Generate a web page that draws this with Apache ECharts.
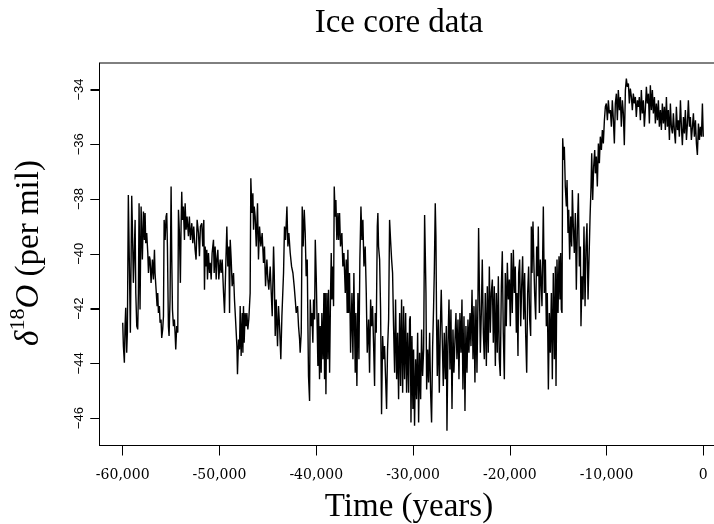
<!DOCTYPE html>
<html>
<head>
<meta charset="utf-8">
<script src="https://cdn.jsdelivr.net/npm/echarts@6/dist/echarts.min.js"></script>
<style>
html,body{margin:0;padding:0;overflow:hidden;background:#fff;}
#chart{width:740px;height:524px;}
</style>
</head>
<body>
<div id="chart"></div>
<script>
// Tick labels
const xTicks = [-60000, -50000, -40000, -30000, -20000, -10000, 0];
const yTicks = [-46, -44, -42, -40, -38, -36, -34];

// [time (years), d18O (per mil)]
const segA = [[-60000,-42.52],[-59930,-43.37],[-59830,-43.98],[-59760,-42.64],[-59690,-41.97],[-59590,-43.61],[-59520,-42.88],[-59420,-37.85],[-59310,-40.46],[-59210,-42.88],[-59070,-37.88],[-59000,-39.00],[-58900,-41.06],[-58790,-39.73],[-58720,-38.76],[-58650,-41.43],[-58550,-42.64],[-58450,-42.76],[-58380,-41.43],[-58310,-38.15],[-58210,-42.03],[-58100,-38.27],[-57970,-40.21],[-57860,-38.45],[-57760,-39.49],[-57690,-38.51],[-57620,-39.61],[-57520,-39.24],[-57410,-39.97],[-57340,-40.70],[-57240,-40.09],[-57170,-40.21],[-57070,-41.06],[-56930,-40.21],[-56830,-40.94],[-56720,-39.85],[-56660,-40.70],[-56550,-41.31],[-56450,-41.91],[-56380,-41.43],[-56310,-42.16],[-56210,-41.91],[-56140,-42.52],[-56040,-42.40],[-55970,-43.07],[-55870,-42.76],[-55790,-42.28],[-55720,-38.76],[-55620,-39.49],[-55520,-38.64],[-55450,-38.51],[-55380,-39.73],[-55280,-42.64],[-55210,-43.00],[-55110,-41.67],[-55000,-37.54],[-54930,-40.21],[-54860,-42.03],[-54760,-42.64],[-54660,-42.40],[-54590,-42.88],[-54520,-43.49],[-54420,-42.64],[-54310,-42.88],[-54240,-38.39],[-54140,-39.24],[-54040,-41.06],[-53970,-39.00],[-53900,-37.73],[-53830,-38.76],[-53730,-38.27],[-53620,-39.49],[-53550,-38.15],[-53450,-39.12],[-53350,-38.64],[-53210,-39.36],[-53110,-38.64],[-53000,-39.49],[-52860,-38.88],[-52760,-39.61],[-52660,-39.00],[-52520,-39.85],[-52420,-40.21],[-52310,-38.76],[-52170,-39.24],[-52070,-40.09],[-51970,-39.00],[-51830,-38.88],[-51730,-39.73],[-51620,-38.76],[-51550,-41.31]];

const segB = [[-51480,-39.73],[-51380,-40.46],[-51310,-39.85],[-51240,-40.94],[-51140,-39.97],[-51030,-40.70],[-50960,-40.33],[-50860,-40.94],[-50760,-39.97],[-50620,-39.49],[-50550,-40.70],[-50450,-39.73],[-50340,-40.94],[-50270,-40.21],[-50170,-39.85],[-50070,-40.94],[-49930,-40.21],[-49830,-40.70],[-49720,-40.21],[-49580,-41.43],[-49480,-42.16],[-49380,-40.82],[-49240,-39.00],[-49140,-40.46],[-49030,-39.73],[-48960,-42.16],[-48890,-39.49],[-48790,-40.21],[-48690,-41.18],[-48550,-40.70],[-48450,-41.67],[-48340,-42.40],[-48200,-43.37],[-48140,-44.40],[-48030,-43.13],[-47930,-43.49],[-47860,-41.91],[-47760,-43.73],[-47650,-42.16],[-47580,-43.61],[-47520,-41.91],[-47450,-43.25],[-47350,-42.16],[-47240,-42.64],[-47170,-42.16],[-47070,-42.76],[-46970,-42.40],[-46830,-41.43],[-46760,-37.24],[-46650,-38.51],[-46550,-37.79],[-46480,-39.12],[-46410,-38.27],[-46310,-38.64],[-46200,-39.73],[-46070,-38.15],[-45970,-40.21],[-45860,-39.00],[-45720,-39.73],[-45590,-39.24],[-45450,-40.33],[-45350,-39.73],[-45240,-41.18],[-45100,-40.21],[-45000,-40.94],[-44900,-41.31],[-44760,-40.46],[-44650,-41.43],[-44550,-42.28],[-44410,-39.73],[-44340,-40.70],[-44240,-43.00],[-44140,-41.67],[-44000,-43.37],[-43900,-41.91],[-43790,-42.64],[-43660,-43.85],[-43550,-42.28],[-43380,-40.70],[-43280,-39.00],[-43170,-39.49],[-43030,-38.27],[-42930,-39.73],[-42830,-39.24],[-42690,-39.97],[-42550,-40.46],[-42410,-40.70],[-42280,-41.18],[-42170,-41.67],[-42070,-42.16],[-41930,-41.91],[-41830,-42.64],[-41720,-43.13],[-41660,-43.61],[-41550,-42.88],[-41450,-38.27],[-41350,-39.73],[-41240,-38.39]];

const segC = [[-41140,-39.24],[-41040,-40.82],[-40930,-40.21],[-40860,-42.64],[-40800,-44.46],[-40690,-45.37],[-40620,-41.67],[-40520,-42.64],[-40450,-42.16],[-40350,-43.25],[-40280,-41.67],[-40170,-42.40],[-40100,-39.49],[-40000,-40.82],[-39930,-42.16],[-39830,-44.10],[-39760,-42.16],[-39660,-44.58],[-39590,-42.64],[-39490,-44.34],[-39420,-42.16],[-39310,-43.85],[-39210,-41.43],[-39140,-44.58],[-39070,-41.43],[-39000,-45.13],[-38900,-41.43],[-38800,-43.85],[-38730,-41.31],[-38620,-44.34],[-38520,-41.43],[-38450,-39.97],[-38380,-41.67],[-38310,-40.46],[-38210,-41.91],[-38140,-37.54],[-38040,-38.64],[-37970,-38.03],[-37870,-39.49],[-37760,-38.51],[-37690,-39.49],[-37590,-38.51],[-37490,-39.73],[-37350,-39.24],[-37250,-40.46],[-37140,-39.97],[-37000,-41.43],[-36900,-40.21],[-36800,-42.16],[-36730,-39.85],[-36660,-42.16],[-36560,-40.70],[-36450,-43.61],[-36310,-41.43],[-36210,-43.85],[-36110,-40.70],[-35970,-44.34],[-35900,-42.16],[-35800,-44.83],[-35690,-41.43],[-35590,-43.85],[-35490,-40.21],[-35380,-38.27],[-35280,-39.49],[-35180,-38.76],[-35070,-40.46],[-34940,-39.73],[-34830,-41.43],[-34730,-43.61],[-34590,-42.40],[-34490,-44.34],[-34380,-41.67],[-34280,-42.64],[-34180,-41.91],[-34070,-43.37],[-33970,-44.83],[-33900,-42.16],[-33800,-42.88],[-33690,-39.00],[-33630,-38.51],[-33560,-39.73],[-33450,-40.21],[-33350,-42.03],[-33250,-45.86],[-33140,-43.00],[-33040,-43.85],[-32940,-43.37],[-32830,-44.58],[-32730,-45.67],[-32630,-43.49],[-32520,-42.40],[-32420,-38.76],[-32320,-39.49],[-32210,-40.21],[-32110,-40.70],[-32010,-42.64],[-31900,-44.34],[-31800,-41.67],[-31690,-44.58],[-31590,-42.88],[-31490,-45.31],[-31380,-42.16],[-31280,-44.83],[-31180,-41.67],[-31070,-45.07],[-30970,-41.91],[-30870,-44.58],[-30760,-42.16],[-30660,-45.07],[-30560,-42.88],[-30450,-45.07],[-30350,-42.40]];

const segD = [[-30280,-42.28],[-30210,-46.16],[-30110,-43.00],[-30010,-45.67],[-29940,-43.49],[-29840,-46.28],[-29730,-43.85],[-29630,-45.31],[-29520,-42.88],[-29420,-46.16],[-29320,-43.61],[-29210,-45.31],[-29110,-42.76],[-29010,-44.46],[-28900,-43.49],[-28800,-38.58],[-28730,-39.97],[-28660,-41.43],[-28590,-44.95],[-28490,-43.49],[-28390,-44.70],[-28280,-42.88],[-28180,-45.07],[-28080,-46.16],[-27970,-43.37],[-27870,-41.91],[-27800,-40.70],[-27700,-38.15],[-27630,-39.36],[-27560,-42.64],[-27490,-44.46],[-27390,-42.40],[-27280,-45.07],[-27180,-42.76],[-27080,-41.31],[-26970,-43.25],[-26870,-44.83],[-26770,-42.88],[-26660,-44.58],[-26560,-42.64],[-26490,-46.46],[-26390,-43.37],[-26280,-41.67],[-26180,-44.22],[-26080,-42.03],[-25970,-45.67],[-25870,-42.76],[-25770,-44.34],[-25660,-43.13],[-25560,-42.16],[-25460,-43.85],[-25350,-42.40],[-25250,-44.58],[-25150,-42.16],[-25040,-43.61],[-24940,-41.67],[-24840,-44.95],[-24730,-42.28],[-24630,-45.74],[-24530,-42.64],[-24420,-44.34],[-24320,-42.40],[-24220,-43.61],[-24110,-42.16],[-24010,-43.37],[-23900,-41.31],[-23800,-43.85],[-23700,-41.91],[-23600,-44.70],[-23490,-41.67],[-23390,-44.34],[-23290,-41.79],[-23220,-39.06],[-23150,-40.94],[-23040,-43.61],[-22940,-42.16],[-22840,-40.21],[-22730,-42.88],[-22630,-43.85],[-22530,-41.43],[-22420,-44.10],[-22320,-41.18],[-22220,-43.61],[-22110,-40.46],[-22010,-42.88],[-21910,-41.43],[-21800,-40.94],[-21700,-43.25],[-21600,-41.18],[-21490,-44.10],[-21390,-41.43],[-21290,-43.61],[-21180,-40.82],[-21080,-43.85],[-20980,-44.46],[-20870,-41.18],[-20770,-39.91],[-20670,-42.88],[-20560,-44.58],[-20460,-40.70],[-20360,-42.64],[-20250,-40.33],[-20150,-41.67],[-20040,-40.94],[-19940,-42.64],[-19840,-39.97],[-19740,-42.16],[-19630,-39.85],[-19530,-41.43]];

const segE = [[-19430,-40.46],[-19320,-42.88],[-19250,-41.43],[-19150,-43.73],[-19080,-40.70],[-18980,-40.21],[-18870,-42.64],[-18770,-41.18],[-18670,-40.09],[-18560,-42.40],[-18460,-40.70],[-18360,-42.88],[-18250,-44.34],[-18150,-41.43],[-18050,-40.46],[-17940,-42.40],[-17840,-43.00],[-17770,-39.00],[-17700,-40.70],[-17600,-38.82],[-17500,-40.46],[-17430,-41.43],[-17320,-42.40],[-17220,-39.73],[-17120,-40.82],[-17050,-39.00],[-16940,-42.16],[-16840,-40.21],[-16740,-41.18],[-16670,-41.91],[-16530,-38.27],[-16430,-41.43],[-16320,-40.21],[-16220,-42.64],[-16120,-41.43],[-16010,-44.95],[-15910,-42.16],[-15810,-43.61],[-15700,-41.43],[-15600,-44.58],[-15500,-40.70],[-15390,-43.85],[-15290,-40.46],[-15220,-44.83],[-15120,-40.21],[-15010,-42.16],[-14910,-40.09],[-14810,-41.67],[-14740,-39.97],[-14670,-42.03],[-14600,-42.16],[-14530,-35.78],[-14430,-36.57],[-14360,-36.09],[-14260,-37.54],[-14150,-38.27],[-14080,-37.30],[-13980,-39.24],[-13910,-38.39],[-13810,-40.21],[-13700,-38.64],[-13600,-39.73],[-13530,-37.67],[-13430,-39.00],[-13330,-39.97],[-13220,-38.51],[-13120,-41.31],[-13010,-39.00],[-12910,-37.79],[-12810,-40.46],[-12700,-39.73],[-12640,-42.64],[-12530,-40.82],[-12430,-41.67],[-12330,-39.00],[-12220,-41.91],[-12120,-39.73],[-12020,-38.88],[-11910,-41.67],[-11810,-40.21],[-11700,-38.64],[-11600,-37.54],[-11530,-36.33],[-11430,-38.03],[-11330,-36.82],[-11220,-36.21],[-11150,-37.06],[-11050,-36.45],[-10950,-37.54],[-10840,-35.97],[-10740,-36.69],[-10640,-35.72],[-10530,-36.21],[-10430,-35.48],[-10330,-35.97],[-10220,-35.12],[-10120,-34.63],[-10020,-34.51],[-9910,-35.12],[-9810,-34.39],[-9710,-34.87]];

const segF = [[-9600,-34.75],[-9500,-35.36],[-9400,-34.39],[-9290,-35.12],[-9190,-35.97],[-9090,-34.51],[-8980,-34.15],[-8880,-35.12],[-8780,-34.02],[-8670,-34.75],[-8570,-34.27],[-8470,-35.36],[-8360,-34.39],[-8260,-34.87],[-8160,-36.03],[-8050,-34.02],[-7950,-33.60],[-7850,-33.90],[-7740,-33.78],[-7640,-34.51],[-7540,-33.96],[-7430,-34.27],[-7330,-34.75],[-7230,-34.15],[-7120,-34.51],[-7020,-34.27],[-6920,-35.00],[-6810,-34.39],[-6710,-34.63],[-6610,-34.27],[-6500,-35.12],[-6400,-34.02],[-6300,-34.87],[-6190,-34.39],[-6090,-35.36],[-5990,-34.75],[-5880,-33.90],[-5780,-34.51],[-5670,-34.15],[-5570,-35.24],[-5470,-33.84],[-5360,-34.75],[-5260,-34.02],[-5160,-34.87],[-5050,-34.27],[-4950,-35.24],[-4850,-34.51],[-4740,-35.12],[-4640,-34.39],[-4540,-35.36],[-4430,-34.75],[-4330,-35.48],[-4230,-34.51],[-4120,-35.24],[-4020,-34.63],[-3920,-35.48],[-3810,-34.27],[-3710,-35.36],[-3610,-34.75],[-3500,-35.84],[-3400,-34.51],[-3300,-35.36],[-3190,-35.60],[-3090,-34.87],[-2990,-35.48],[-2880,-35.97],[-2780,-34.63],[-2670,-35.48],[-2570,-35.12],[-2470,-35.72],[-2360,-34.39],[-2260,-35.36],[-2160,-36.03],[-2050,-35.00],[-1950,-35.60],[-1850,-34.75],[-1740,-35.84],[-1640,-35.24],[-1540,-34.39],[-1430,-35.36],[-1330,-35.00],[-1230,-35.84],[-1120,-35.36],[-1020,-34.87],[-920,-35.72],[-810,-35.12],[-710,-35.97],[-610,-36.39],[-500,-35.24],[-400,-35.84],[-300,-35.36],[-190,-35.72],[-90,-34.51],[0,-35.72]];

const iceCore = segA.concat(segB, segC, segD, segE, segF);

const X_MIN = -62400, X_MAX = 2400;

const chart = echarts.init(document.getElementById('chart'), null, {renderer: 'canvas', width: 740, height: 524});

const fmtX = v => (v < 0 ? '-' : '') + Math.abs(v).toLocaleString('en-US');
const fmtY = v => (v < 0 ? '\u2212' : '') + Math.abs(v);

chart.setOption({
  animation: false,
  backgroundColor: '#fff',
  grid: {left: 99.5, top: 63, width: 627, height: 382.5, show: true, borderColor: '#000', borderWidth: 1, backgroundColor: 'transparent'},
  xAxis: {
    type: 'value', min: X_MIN, max: X_MAX, position: 'bottom',
    axisLine: {show: true, onZero: false, lineStyle: {color: '#000', width: 1}}, splitLine: {show: false},
    axisTick: {show: true, customValues: xTicks, length: 10, lineStyle: {color: '#000', width: 1}},
    axisLabel: {customValues: xTicks, formatter: fmtX, fontFamily: 'DejaVu Serif', fontSize: 14, color: '#000', margin: 23}
  },
  yAxis: {
    type: 'value', min: -47.0, max: -33.03, position: 'left',
    axisLine: {show: true, onZero: false, lineStyle: {color: '#000', width: 1}}, splitLine: {show: false},
    axisTick: {show: true, customValues: yTicks, length: 9, lineStyle: {color: '#000', width: 1}},
    axisLabel: {customValues: yTicks, rotate: 90, formatter: fmtY, fontFamily: 'Liberation Sans', fontSize: 13, color: '#000', margin: 14}
  },
  series: [{
    type: 'line', data: iceCore, showSymbol: false, symbol: 'none',
    lineStyle: {color: '#000', width: 1.4}, sampling: null, clip: true
  }, {
    // y-axis tick marks, positioned through the axis scale
    type: 'custom', silent: true, clip: false, z: 10,
    data: yTicks.map(v => [X_MIN, v]),
    renderItem: (params, api) => {
      const p = api.coord([api.value(0), api.value(1)]);
      const y = Math.round(p[1]) + 0.5;
      return {type: 'line', shape: {x1: p[0] - 9, y1: y, x2: p[0], y2: y}, style: {stroke: '#000', lineWidth: 1}};
    }
  }],
  graphic: [
    {type: 'text', x: 399, y: 23, style: {text: 'Ice core data', font: '33px "Liberation Serif"', fill: '#000', align: 'center', verticalAlign: 'middle'}},
    {type: 'text', x: 409, y: 507, style: {text: 'Time (years)', font: '33px "Liberation Serif"', fill: '#000', align: 'center', verticalAlign: 'middle'}},
    {type: 'text', x: 29, y: 253, rotation: Math.PI / 2, style: {
      text: '{i|δ}{s|18}{i|O}{n| (per mil)}',
      align: 'center', verticalAlign: 'middle', fill: '#000',
      rich: {
        i: {fontFamily: 'Liberation Serif', fontStyle: 'italic', fontSize: 33, lineHeight: 44, fill: '#000'},
        s: {fontFamily: 'Liberation Serif', fontSize: 22, lineHeight: 22, verticalAlign: 'top', fill: '#000'},
        n: {fontFamily: 'Liberation Serif', fontSize: 33, lineHeight: 44, fill: '#000'}
      }
    }}
  ]
});
</script>
</body>
</html>
